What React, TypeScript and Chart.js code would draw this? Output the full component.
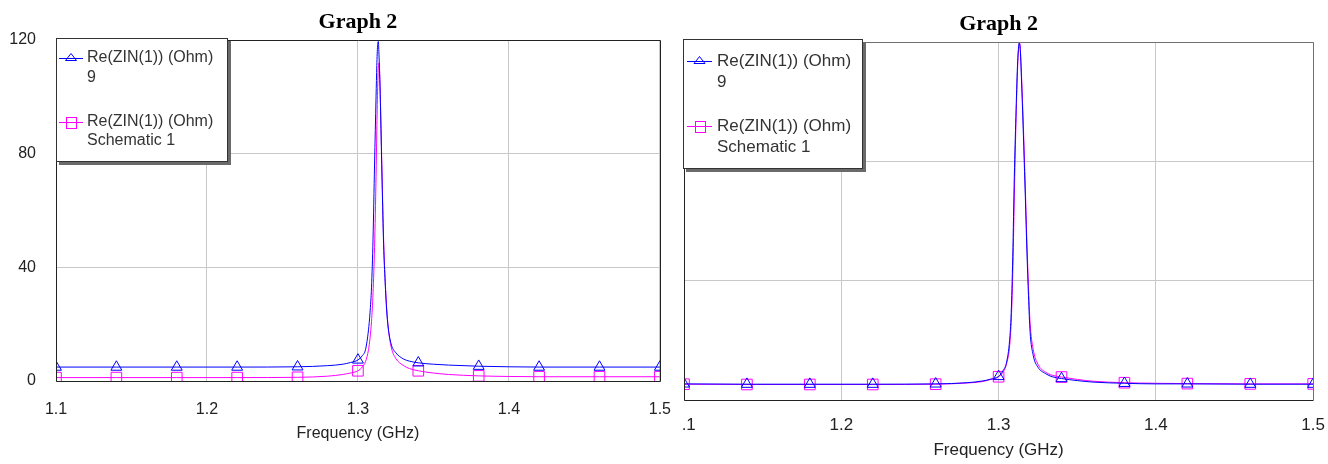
import React, { useEffect, useRef } from 'react';
import { Chart, registerables } from 'chart.js';

Chart.register(...registerables);
Chart.defaults.font.family = '"Liberation Sans", Arial, sans-serif';

// ---------- data ----------
const FREQ_GHZ = [
  1.10, 1.14, 1.18, 1.22, 1.26, 1.28, 1.29, 1.295, 1.30, 1.303,
  1.305, 1.307, 1.308, 1.309, 1.310, 1.311, 1.312, 1.3125, 1.313, 1.3135,
  1.314, 1.3145, 1.315, 1.316, 1.317, 1.318, 1.319, 1.320, 1.322, 1.325,
  1.330, 1.334, 1.34, 1.35, 1.36, 1.38, 1.40, 1.42, 1.46, 1.50,
];

// left graph
const LEFT_RE_9 = [
  4.9, 4.9, 4.9, 4.9, 5.0, 5.4, 5.9, 6.5, 7.4, 9.0,
  11.0, 18, 24, 33, 50, 76, 100, 111, 118, 119.5,
  114, 106, 95, 70, 48, 35, 25, 19, 13, 10,
  7.8, 7.0, 6.4, 5.9, 5.6, 5.2, 5.0, 4.9, 4.9, 4.9,
];
const LEFT_RE_SCH1 = [
  1.2, 1.2, 1.2, 1.2, 1.3, 1.7, 2.3, 2.8, 3.6, 5.0,
  6.8, 11, 15, 21, 31, 47, 72, 88, 102, 110,
  112, 106, 96, 72, 50, 36, 26, 19, 12, 8,
  5.5, 4.4, 3.6, 2.8, 2.3, 1.8, 1.6, 1.5, 1.5, 1.5,
];

// right graph
const RIGHT_RE_9 = [
  5.4, 5.3, 5.3, 5.3, 5.4, 5.8, 6.4, 7.0, 7.9, 10,
  12.5, 20, 29, 48, 75, 95, 112, 117, 119.7, 119,
  115, 108, 101, 85, 68, 50, 35, 23, 15, 11,
  8.8, 7.8, 7.2, 6.5, 6.0, 5.6, 5.4, 5.4, 5.3, 5.3,
];
const RIGHT_RE_SCH1 = [
  5.3, 5.2, 5.2, 5.2, 5.3, 5.7, 6.2, 6.9, 7.8, 9.5,
  12, 18, 26, 42, 68, 92, 110, 116, 119, 119.5,
  116, 110, 103, 88, 71, 53, 38, 26, 17, 12,
  9.3, 8.3, 7.7, 6.9, 6.3, 5.8, 5.6, 5.5, 5.4, 5.4,
];

const MARKER_FREQ = [1.1, 1.14, 1.18, 1.22, 1.26, 1.3, 1.34, 1.38, 1.42, 1.46, 1.5];
const X_TICKS = [1.1, 1.2, 1.3, 1.4, 1.5];
const Y_TICKS = [0, 40, 80, 120];

const CHART_TITLE = 'Graph 2';
const X_TITLE = 'Frequency (GHz)';
const SERIES_NAME = 'Re(ZIN(1)) (Ohm)';
const SERIES_SUB = ['9', 'Schematic 1'];

const BLUE = '#0000ff';
const MAGENTA = '#ff00ff';
const TEXT = '#222222';
const GRID = '#c8c8c8';

// ---------- drawing helpers ----------
function legendTriangle(ctx: CanvasRenderingContext2D, x: number, y: number) {
  ctx.beginPath();
  ctx.moveTo(x, y - 5);
  ctx.lineTo(x + 5.5, y + 2);
  ctx.lineTo(x - 5.5, y + 2);
  ctx.closePath();
  ctx.stroke();
}
function legendSquare(ctx: CanvasRenderingContext2D, x: number, y: number) {
  ctx.strokeRect(Math.round(x - 5) + 0.5, Math.round(y - 5.5) + 0.5, 10, 11);
}

const framePlugin = {
  id: 'frame',
  afterDraw(chart: any, _args: any, o: any) {
    const ctx: CanvasRenderingContext2D = chart.ctx;
    const a = chart.chartArea;
    const px = (v: number) => Math.round(v) + 0.5;
    ctx.save();
    ctx.lineWidth = 1;
    // plot frame
    ctx.strokeStyle = o.frameMain;
    ctx.beginPath();
    ctx.moveTo(px(a.left), px(a.top));
    ctx.lineTo(px(a.left), px(a.bottom));
    ctx.lineTo(px(a.right), px(a.bottom));
    ctx.stroke();
    ctx.strokeStyle = o.frameOther;
    ctx.beginPath();
    ctx.moveTo(px(a.left), px(a.top));
    ctx.lineTo(px(a.right), px(a.top));
    ctx.lineTo(px(a.right), px(a.bottom));
    ctx.stroke();

    // title
    ctx.fillStyle = '#000';
    ctx.font = o.titleFont;
    ctx.textAlign = 'center';
    ctx.textBaseline = 'alphabetic';
    ctx.fillText(CHART_TITLE, (a.left + a.right) / 2, o.titleY);

    // legend box
    const L = o.legend;
    ctx.fillStyle = '#6a6a6a';
    ctx.fillRect(L.x + 3, L.y + 3, L.w, L.h);
    ctx.fillStyle = '#ffffff';
    ctx.fillRect(L.x, L.y, L.w, L.h);
    ctx.strokeStyle = '#333333';
    ctx.strokeRect(L.x + 0.5, L.y + 0.5, L.w - 1, L.h - 1);

    ctx.font = L.font;
    ctx.textAlign = 'left';
    ctx.textBaseline = 'middle';
    const colors = [BLUE, MAGENTA];
    for (let i = 0; i < 2; i++) {
      const ly = L.rows[i * 2];
      const sy = Math.round(ly) + 0.5;
      ctx.strokeStyle = colors[i];
      ctx.beginPath();
      ctx.moveTo(L.symX0, sy);
      ctx.lineTo(L.symX1, sy);
      ctx.stroke();
      const cx = (L.symX0 + L.symX1) / 2;
      if (i === 0) legendTriangle(ctx, cx, sy);
      else legendSquare(ctx, cx, ly);
      ctx.fillStyle = '#333333';
      ctx.fillText(SERIES_NAME, L.textX, L.rows[i * 2]);
      ctx.fillText(SERIES_SUB[i], L.textX, L.rows[i * 2 + 1]);
    }
    ctx.restore();
  },
};

const markerRadius = (r: number) =>
  FREQ_GHZ.map((f) => (MARKER_FREQ.some((m) => Math.abs(m - f) < 1e-6) ? r : 0));

type Cfg = {
  w: number;
  h: number;
  canvasLeft: number;
  padRight: number;
  padTop: number;
  yAxisW: number;
  xAxisH: number;
  fontSize: number;
  xTickPad: number;
  xTitlePadBottom: number;
  titleFont: string;
  titleY: number;
  frameOther: string;
  s9: number[];
  sSch: number[];
  legend: any;
};

function buildConfig(c: Cfg): any {
  const font = { size: c.fontSize, family: '"Liberation Sans", Arial, sans-serif' };
  const mk = (vals: number[], color: string, style: string, r: number) => ({
    data: FREQ_GHZ.map((f, i) => ({ x: f, y: vals[i] })),
    borderColor: color,
    borderWidth: 1,
    backgroundColor: color,
    cubicInterpolationMode: 'monotone',
    pointStyle: style,
    pointRadius: markerRadius(r),
    pointBorderColor: color,
    pointBackgroundColor: 'rgba(0,0,0,0)',
    pointBorderWidth: 1,
  });
  return {
    type: 'line',
    data: {
      datasets: [
        { label: SERIES_NAME + ' ' + SERIES_SUB[0], ...mk(c.s9, BLUE, 'triangle', 6.3) },
        { label: SERIES_NAME + ' ' + SERIES_SUB[1], ...mk(c.sSch, MAGENTA, 'rect', 7.5) },
      ],
    },
    options: {
      responsive: false,
      animation: false,
      events: [],
      layout: { padding: { left: 0, right: c.padRight, top: c.padTop, bottom: 0 } },
      plugins: {
        legend: { display: false },
        tooltip: { enabled: false },
        title: { display: false },
        frame: {
          frameMain: '#222222',
          frameOther: c.frameOther,
          titleFont: c.titleFont,
          titleY: c.titleY,
          legend: c.legend,
        },
      },
      scales: {
        x: {
          type: 'linear',
          min: 1.1,
          max: 1.5,
          afterBuildTicks: (s: any) => {
            s.ticks = X_TICKS.map((v) => ({ value: v }));
          },
          afterFit: (s: any) => {
            s.height = c.xAxisH;
          },
          grid: { color: GRID, lineWidth: 1, drawTicks: false },
          border: { display: false },
          ticks: {
            font,
            color: TEXT,
            padding: c.xTickPad,
            maxRotation: 0,
            autoSkip: false,
            callback: (v: any) => Number(v).toFixed(1),
          },
          title: {
            display: true,
            text: X_TITLE,
            font,
            color: TEXT,
            padding: { top: 0, bottom: c.xTitlePadBottom },
          },
        },
        y: {
          type: 'linear',
          min: 0,
          max: 120,
          afterBuildTicks: (s: any) => {
            s.ticks = Y_TICKS.map((v) => ({ value: v }));
          },
          afterFit: (s: any) => {
            s.width = c.yAxisW;
          },
          grid: { color: GRID, lineWidth: 1, drawTicks: false },
          border: { display: false },
          ticks: { font, color: TEXT, padding: 20 },
        },
      },
    },
    plugins: [framePlugin],
  };
}

const LEFT_CFG: Cfg = {
  w: 690,
  h: 464,
  canvasLeft: 0,
  padRight: 10,
  padTop: 40,
  yAxisW: 56,
  xAxisH: 83,
  fontSize: 16,
  xTickPad: 19,
  xTitlePadBottom: 21,
  titleFont: 'bold 22px "Liberation Serif", "Times New Roman", serif',
  titleY: 28,
  frameOther: '#222222',
  s9: LEFT_RE_9,
  sSch: LEFT_RE_SCH1,
  legend: {
    x: 56,
    y: 38,
    w: 172,
    h: 124,
    textX: 87,
    rows: [58, 78, 122, 141],
    symX0: 59,
    symX1: 83,
    font: '16px "Liberation Sans", Arial, sans-serif',
  },
};

const RIGHT_CFG: Cfg = {
  w: 716,
  h: 464,
  canvasLeft: -59,
  padRight: 10,
  padTop: 42,
  yAxisW: 60,
  xAxisH: 64,
  fontSize: 17,
  xTickPad: 15,
  xTitlePadBottom: 3,
  titleFont: 'bold 22px "Liberation Serif", "Times New Roman", serif',
  titleY: 30,
  frameOther: '#707070',
  s9: RIGHT_RE_9,
  sSch: RIGHT_RE_SCH1,
  legend: {
    x: 59,
    y: 39,
    w: 180,
    h: 130,
    textX: 93,
    rows: [61, 82, 126, 147],
    symX0: 63,
    symX1: 88,
    font: '17px "Liberation Sans", Arial, sans-serif',
  },
};

function Graph({ cfg }: { cfg: Cfg }) {
  const ref = useRef<HTMLCanvasElement>(null);
  useEffect(() => {
    const chart = new Chart(ref.current as HTMLCanvasElement, buildConfig(cfg));
    return () => chart.destroy();
  }, [cfg]);
  return (
    <canvas
      ref={ref}
      width={cfg.w}
      height={cfg.h}
      style={{ position: 'absolute', left: cfg.canvasLeft, top: 0, width: cfg.w, height: cfg.h }}
    />
  );
}

export default function App() {
  return (
    <div
      style={{
        position: 'absolute',
        left: 0,
        top: 0,
        width: 1328,
        height: 464,
        background: '#ffffff',
        overflow: 'hidden',
      }}
    >
      <div style={{ position: 'absolute', left: 0, top: 0, width: 683, height: 464, overflow: 'hidden' }}>
        <Graph cfg={LEFT_CFG} />
      </div>
      <div style={{ position: 'absolute', left: 683, top: 0, width: 645, height: 464, overflow: 'hidden' }}>
        <Graph cfg={RIGHT_CFG} />
      </div>
    </div>
  );
}
